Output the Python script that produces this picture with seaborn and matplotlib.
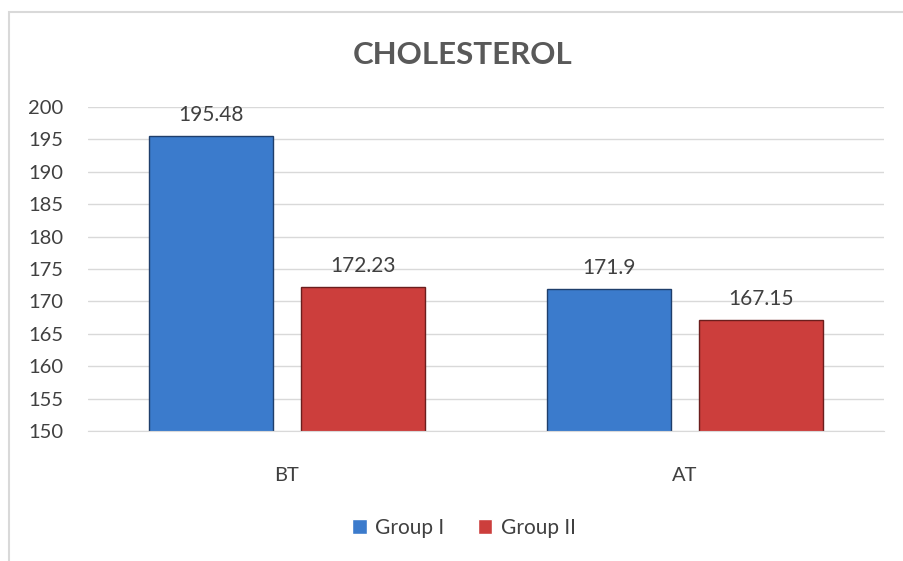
import pandas as pd
import matplotlib.pyplot as plt
import seaborn as sns
from matplotlib.patches import Rectangle

# Data
stages = ['BT', 'AT']
groups = ['Group I', 'Group II']
group1_values = [195.48, 171.9]
group2_values = [172.23, 167.15]
y_ticks = [150, 155, 160, 165, 170, 175, 180, 185, 190, 195, 200]

df = pd.DataFrame({
    'Stage': stages * 2,
    'Group': [groups[0]] * 2 + [groups[1]] * 2,
    'Value': group1_values + group2_values,
})

sns.set_style('white')
plt.rcParams['font.family'] = ['Lato', 'DejaVu Sans']

fig = plt.figure(figsize=(9.04, 5.61), dpi=100)
ax = fig.add_axes([88 / 904, 1 - 431 / 561, 796 / 904, 324 / 561])

palette = {'Group I': '#3B7BCC', 'Group II': '#CC3E3C'}
sns.barplot(data=df, x='Stage', y='Value', hue='Group', order=stages, hue_order=groups,
            palette=palette, width=0.766, gap=0.19, saturation=1, ax=ax, legend=True)

edge_colors = {'Group I': '#1F3E6B', 'Group II': '#6B1E1D'}
for container, g in zip(ax.containers, groups):
    for bar in container:
        bar.set_edgecolor(edge_colors[g])
        bar.set_linewidth(1.0)
    ax.bar_label(container, labels=[f'{v:g}' for v in container.datavalues],
                 padding=8, fontsize=15, color='#404040')

ax.set_ylim(150, 200)
ax.set_xlim(-0.5, 1.5)
ax.set_yticks(y_ticks)
ax.yaxis.grid(True, color='#D9D9D9', linewidth=1.0)
ax.set_axisbelow(True)
for side in ['top', 'right', 'left']:
    ax.spines[side].set_visible(False)
ax.spines['bottom'].set_color('#D9D9D9')
ax.tick_params(axis='y', length=0, pad=18, labelsize=14.5, labelcolor='#404040')
ax.tick_params(axis='x', length=0, pad=26, labelsize=14.5, labelcolor='#404040')
ax.set_xlabel('')
ax.set_ylabel('')

ax.legend(loc='center', bbox_to_anchor=(464 / 904, 1 - 528 / 561), bbox_transform=fig.transFigure,
          ncol=2, frameon=False, fontsize=15, handlelength=0.7, handleheight=0.7,
          handletextpad=0.4, columnspacing=1.6, labelcolor='#404040')

fig.text(463 / 904, 1 - 55 / 561, 'CHOLESTEROL', ha='center', va='center',
         fontsize=22.5, fontweight='bold', color='#595959')

# chart area border
fig.patches.append(Rectangle((9 / 904, -0.05), 1.0, 1 - 12 / 561 + 0.05,
                             transform=fig.transFigure, fill=False,
                             edgecolor='#D9D9D9', linewidth=1.5))

plt.savefig('out.png', dpi=100)
plt.close()
